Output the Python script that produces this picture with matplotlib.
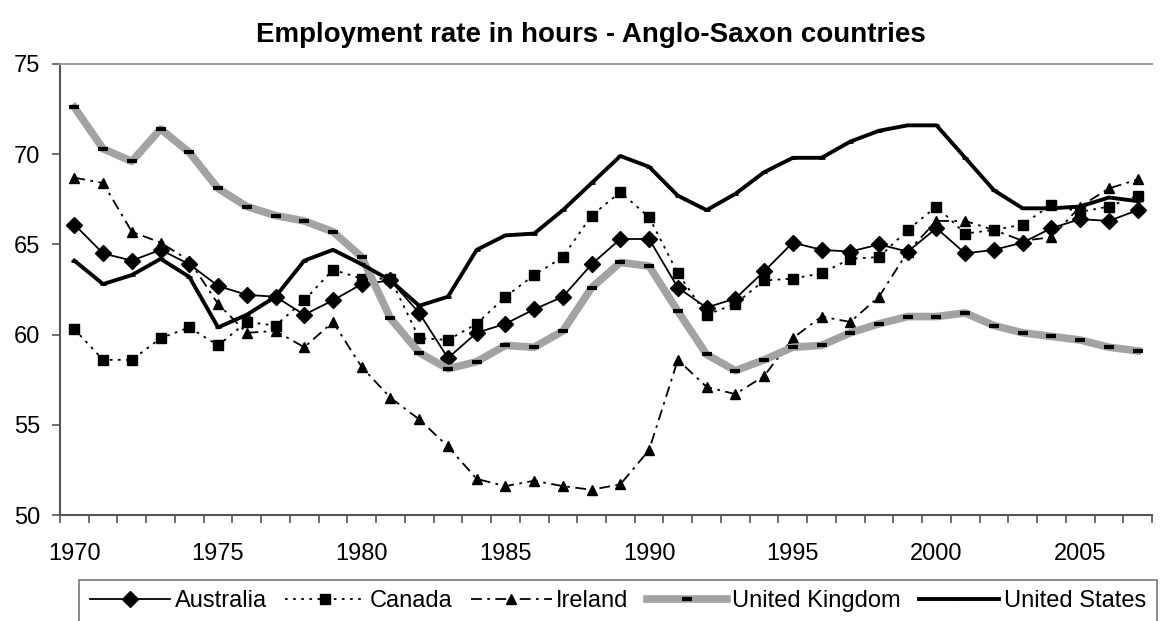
import matplotlib
matplotlib.use("Agg")
import matplotlib.pyplot as plt
import numpy as np

plt.rcParams['font.family'] = ['Liberation Sans', 'DejaVu Sans']

# 数据: 1970-2007
years = list(range(1970, 2008))

australia = [66.1, 64.5, 64.1, 64.7, 63.9, 62.7, 62.2, 62.1, 61.1, 61.9,
             62.8, 63.0, 61.2, 58.7, 60.1, 60.6, 61.4, 62.1, 63.9, 65.3,
             65.3, 62.6, 61.5, 62.0, 63.5, 65.1, 64.7, 64.6, 65.0, 64.6,
             65.9, 64.5, 64.7, 65.1, 65.9, 66.4, 66.3, 66.9]
canada = [60.3, 58.6, 58.6, 59.8, 60.4, 59.4, 60.7, 60.5, 61.9, 63.6,
          63.1, 63.1, 59.8, 59.7, 60.6, 62.1, 63.3, 64.3, 66.6, 67.9,
          66.5, 63.4, 61.1, 61.7, 63.0, 63.1, 63.4, 64.2, 64.3, 65.8,
          67.1, 65.6, 65.8, 66.1, 67.2, 66.8, 67.1, 67.7]
ireland = [68.7, 68.4, 65.7, 65.1, 64.1, 61.7, 60.1, 60.2, 59.3, 60.7,
           58.2, 56.5, 55.3, 53.8, 52.0, 51.6, 51.9, 51.6, 51.4, 51.7,
           53.6, 58.6, 57.1, 56.7, 57.7, 59.8, 61.0, 60.7, 62.1, 64.6,
           66.3, 66.3, 65.8, 65.2, 65.4, 67.1, 68.1, 68.6]
uk = [72.6, 70.3, 69.6, 71.4, 70.1, 68.1, 67.1, 66.6, 66.3, 65.7,
      64.3, 60.9, 59.0, 58.1, 58.5, 59.4, 59.3, 60.2, 62.6, 64.0,
      63.8, 61.3, 58.9, 58.0, 58.6, 59.3, 59.4, 60.1, 60.6, 61.0,
      61.0, 61.2, 60.5, 60.1, 59.9, 59.7, 59.3, 59.1]
us = [64.1, 62.8, 63.3, 64.2, 63.2, 60.4, 61.1, 62.1, 64.1, 64.7,
      63.9, 63.0, 61.6, 62.1, 64.7, 65.5, 65.6, 66.9, 68.4, 69.9,
      69.3, 67.7, 66.9, 67.8, 69.0, 69.8, 69.8, 70.7, 71.3, 71.6,
      71.6, 69.8, 68.0, 67.0, 67.0, 67.1, 67.6, 67.4]

W, H = 1162, 621
fig = plt.figure(figsize=(W / 100, H / 100), dpi=100)
ax = fig.add_axes([60 / W, 1 - 515 / H, 1092 / W, 451 / H])

ax.plot(years, australia, color='black', lw=1.3, marker='D', ms=8,
        label='Australia')
ax.plot(years, canada, color='black', lw=1.3, ls=(0, (1.5, 3)), marker='s',
        ms=7.5, label='Canada')
ax.plot(years, ireland, color='black', lw=1.3, ls=(0, (6, 3, 1.5, 3)),
        marker='^', ms=7, label='Ireland')
ax.plot(years, uk, color='#a3a3a3', lw=5.5, marker='_', ms=7, mew=3,
        mec='black', label='United Kingdom')
ax.plot(years, us, color='black', lw=2.8, marker='_', ms=4, mew=2,
        mec='black', label='United States')

ax.set_xlim(1969.5, 2007.5)
ax.set_ylim(50, 75)
ax.set_yticks([50, 55, 60, 65, 70, 75])
ax.set_xticks(range(1970, 2008, 5))
ax.tick_params(axis='x', length=0, labelsize=17, pad=20)
ax.set_xticks(np.arange(1969.5, 2008, 1), minor=True)
ax.tick_params(axis='x', which='minor', length=6, width=1.2,
               direction='out', color='#555555')
ax.tick_params(axis='y', length=6, width=1.2, direction='out',
               labelsize=17, pad=8, color='#555555')

for side in ['left', 'bottom']:
    ax.spines[side].set_color('#555555')
    ax.spines[side].set_linewidth(1.5)
ax.spines['top'].set_color('#a0a0a0')
ax.spines['top'].set_linewidth(1.5)
ax.spines['right'].set_visible(False)

fig.text(591 / W, 1 - 35 / H, 'Employment rate in hours - Anglo-Saxon countries',
         ha='center', va='center', fontsize=20, fontweight='bold')

leg = fig.legend(*ax.get_legend_handles_labels(), loc='upper left',
                 bbox_to_anchor=(79 / W, 1 - 586 / H, 1078 / W, 0.01),
                 mode='expand', ncol=5, fontsize=17, frameon=True,
                 fancybox=False, handlelength=3.4, columnspacing=0.4,
                 handletextpad=0.2, borderpad=0.45, borderaxespad=0)
leg.get_frame().set_edgecolor('#555555')
leg.get_frame().set_linewidth(1.2)

fig.savefig('out.png', dpi=100)
